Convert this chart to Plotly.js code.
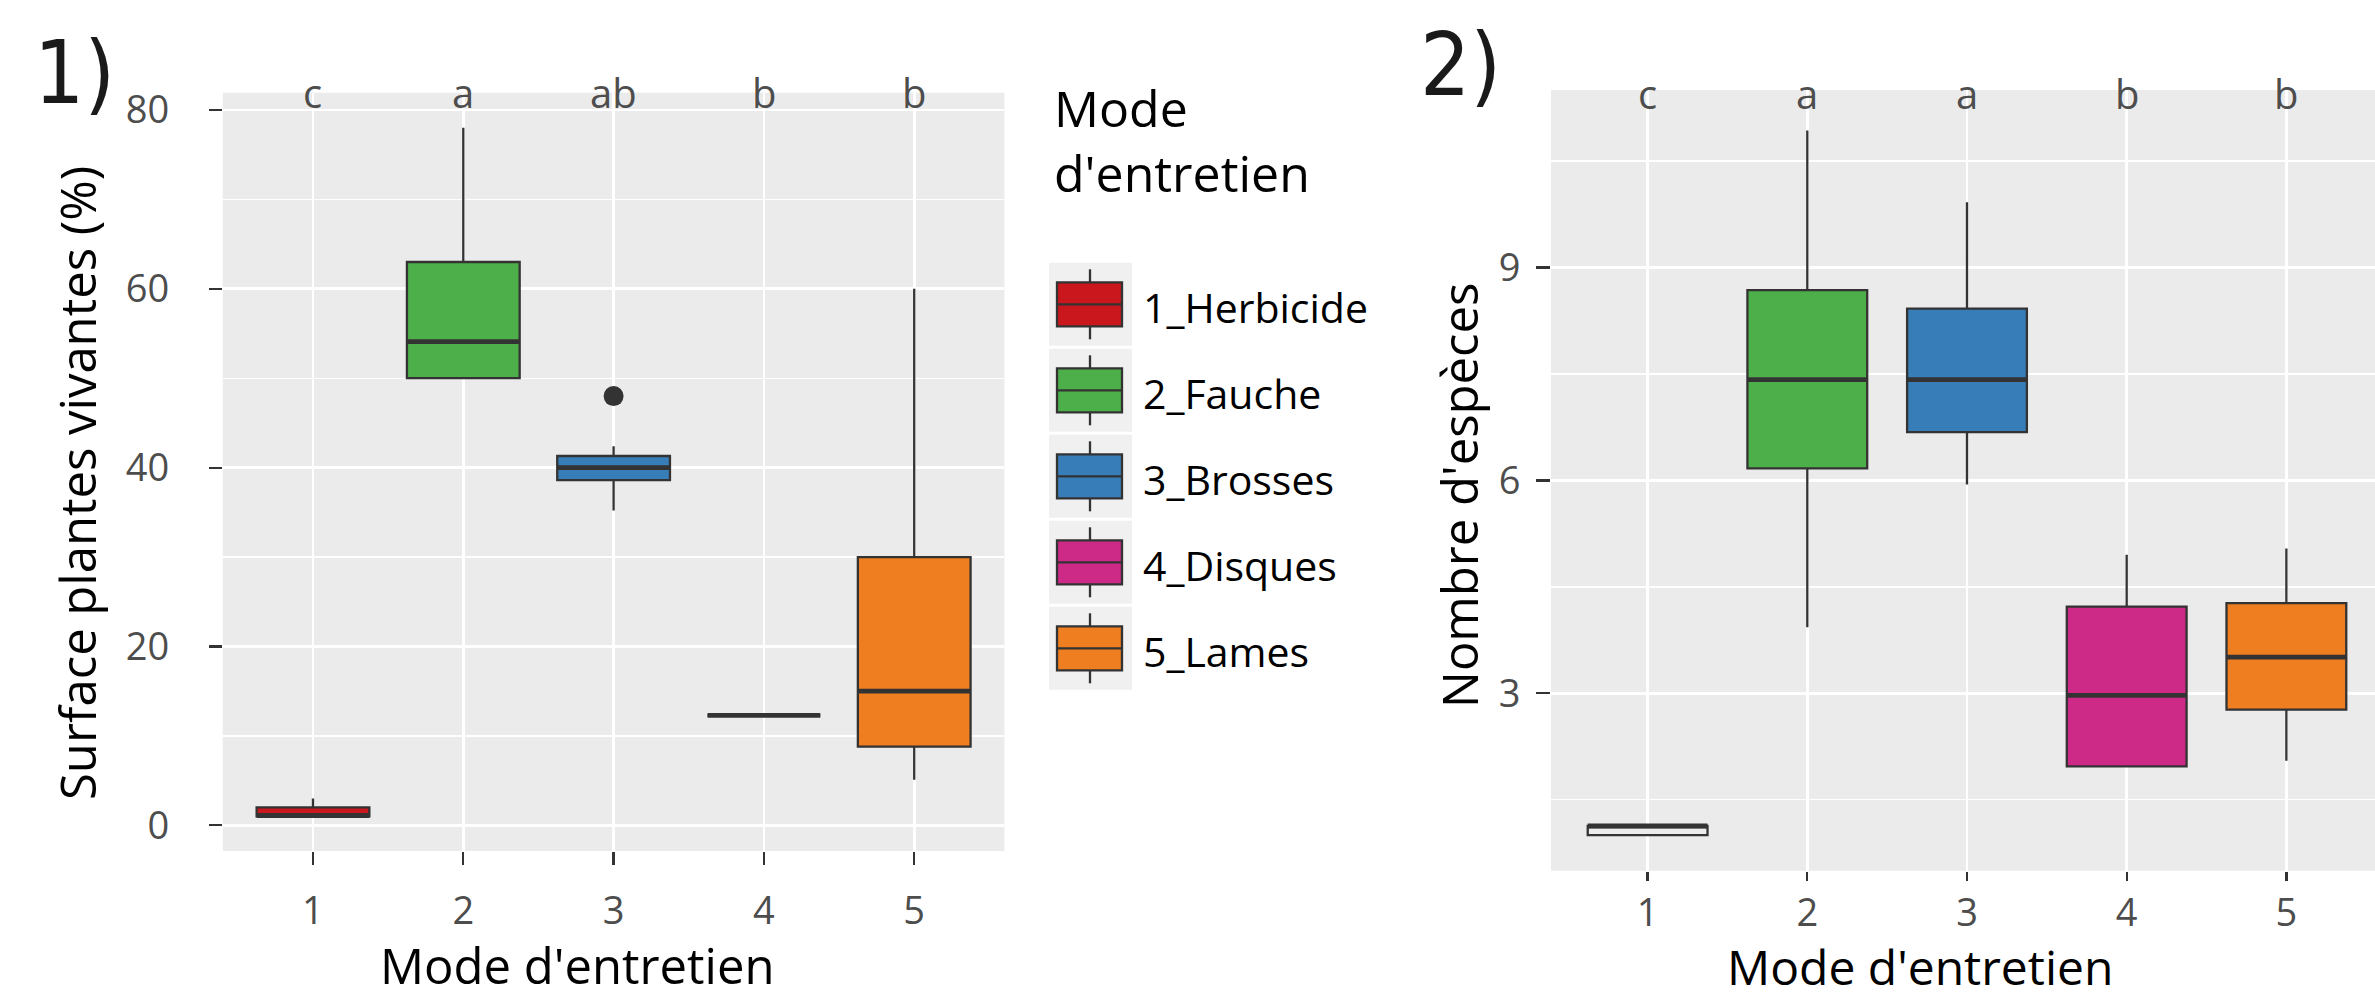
<!DOCTYPE html>
<html>
<head>
<meta charset="utf-8">
<script src="https://cdn.plot.ly/plotly-3.0.1.min.js"></script>
<style>html,body{margin:0;padding:0;background:#fff;}#chart{width:2375px;height:1000px;}</style>
</head>
<body>
<div id="chart"></div>
<script>
// ---------- DATA ----------
const categories = [1, 2, 3, 4, 5];
const tickLabels = ['1', '2', '3', '4', '5'];
const treatments = ['1_Herbicide', '2_Fauche', '3_Brosses', '4_Disques', '5_Lames'];

// Panel 1 : Surface plantes vivantes (%)
const surfLower  = [1,   50,   35.2, 12.3, 5.1];
const surfQ1     = [1,   50,   38.6, 12.3, 8.8];
const surfMedian = [1.1, 54.1, 40,   12.3, 15];
const surfQ3     = [2,   63,   41.3, 12.3, 30];
const surfUpper  = [3,   78,   42.4, 12.3, 60];
const surfOutlierX = [3];
const surfOutlierY = [48];
const surfLetters = ['c', 'a', 'ab', 'b', 'b'];
const surfLetterY = 80;

// Panel 2 : Nombre d'espèces
const espLower  = [1.0,  3.93,  5.94, 2.0,  2.05];
const espQ1     = [1.0,  6.17,  6.68, 1.97, 2.77];
const espMedian = [1.13, 7.42,  7.42, 2.97, 3.51];
const espQ3     = [1.13, 8.68,  8.42, 4.22, 4.27];
const espUpper  = [1.13, 10.93, 9.92, 4.95, 5.04];
const espLetters = ['c', 'a', 'a', 'b', 'b'];
const espLetterY = 11.2;

// ---------- STYLE ----------
const fills = ['#c9171d', '#4daf4a', '#377eb8', '#cd2986', '#ee7e1f'];
const esp1Fill = '#ebebeb';
const W = 2375, H = 1000;
const FONT = 'Open Sans, Noto Sans, sans-serif';
const lineCol = '#333333';
const BOXW = 0.75;
const px = v => v / W;
const py = v => 1 - v / H;

const traces = [];
function addPanel(xa, ya, lower, q1, med, q3, upper, fillArr) {
  categories.forEach((c, i) => {
    traces.push({
      type: 'box', xaxis: xa, yaxis: ya, name: treatments[i], showlegend: false,
      x: [c], q1: [q1[i]], median: [med[i]], q3: [q3[i]],
      lowerfence: [lower[i]], upperfence: [upper[i]],
      width: BOXW, whiskerwidth: 0, boxpoints: false,
      fillcolor: fillArr[i], line: {color: lineCol, width: 2.3},
      hoverinfo: 'skip'
    });
  });
  // thicker median segments (ggplot fatten)
  const mx = [], my = [];
  categories.forEach((c, i) => {
    mx.push(c - BOXW / 2, c + BOXW / 2, null);
    my.push(med[i], med[i], null);
  });
  traces.push({type: 'scatter', mode: 'lines', xaxis: xa, yaxis: ya, x: mx, y: my,
    line: {color: lineCol, width: 4.8}, showlegend: false, hoverinfo: 'skip'});
}
addPanel('x', 'y', surfLower, surfQ1, surfMedian, surfQ3, surfUpper, fills);
addPanel('x2', 'y2', espLower, espQ1, espMedian, espQ3, espUpper,
  fills.map((f, i) => i === 0 ? esp1Fill : f));
traces.push({type: 'scatter', mode: 'markers', xaxis: 'x', yaxis: 'y',
  x: surfOutlierX, y: surfOutlierY, marker: {color: lineCol, size: 20},
  showlegend: false, hoverinfo: 'skip'});

const annotations = [];
categories.forEach((c, i) => {
  annotations.push({xref: 'x', yref: 'y', x: c, y: surfLetterY, text: surfLetters[i],
    showarrow: false, xanchor: 'center', yanchor: 'bottom', yshift: -12,
    font: {family: FONT, size: 40, color: '#4d4d4d'}});
  annotations.push({xref: 'x2', yref: 'y2', x: c, y: espLetterY, text: espLetters[i],
    showarrow: false, xanchor: 'center', yanchor: 'bottom', yshift: -12,
    font: {family: FONT, size: 40, color: '#4d4d4d'}});
});
// panel tags
const tagFont = {family: 'Liberation Sans Narrow, DejaVu Sans Condensed, Open Sans, sans-serif', size: 88, color: '#1a1a1a'};
annotations.push({xref: 'paper', yref: 'paper', x: px(32), y: py(126), text: '1)', showarrow: false,
  xanchor: 'left', yanchor: 'bottom', font: tagFont});
annotations.push({xref: 'paper', yref: 'paper', x: px(1418), y: py(118), text: '2)', showarrow: false,
  xanchor: 'left', yanchor: 'bottom', font: tagFont});
// axis titles
annotations.push({xref: 'paper', yref: 'paper', x: px(577), y: py(999), text: "Mode d'entretien",
  showarrow: false, xanchor: 'center', yanchor: 'bottom', borderpad: 0, font: {family: FONT, size: 49, color: '#000'}});
annotations.push({xref: 'paper', yref: 'paper', x: px(1920), y: py(1000), text: "Mode d'entretien",
  showarrow: false, xanchor: 'center', yanchor: 'bottom', borderpad: 0, font: {family: FONT, size: 48, color: '#000'}});
annotations.push({xref: 'paper', yref: 'paper', x: px(77), y: py(483), text: 'Surface plantes vivantes (%)',
  showarrow: false, textangle: -90, xanchor: 'center', yanchor: 'middle', font: {family: FONT, size: 49, color: '#000'}});
annotations.push({xref: 'paper', yref: 'paper', x: px(1459), y: py(496), text: "Nombre d'espèces",
  showarrow: false, textangle: -90, xanchor: 'center', yanchor: 'middle', font: {family: FONT, size: 49, color: '#000'}});
// legend (drawn manually)
annotations.push({xref: 'paper', yref: 'paper', x: px(1052), y: py(72), text: "Mode<br>d'entretien",
  showarrow: false, xanchor: 'left', yanchor: 'top', align: 'left', font: {family: FONT, size: 50, color: '#000'}});
const shapes = [];
const keyX0 = 1049, keyX1 = 1132, keyCx = 1090, keyTop = 304.3, keyPitch = 86;
treatments.forEach((t, i) => {
  const cy = keyTop + i * keyPitch;
  shapes.push({type: 'rect', xref: 'paper', yref: 'paper', x0: px(keyX0), x1: px(keyX1), y0: py(cy - 41.5), y1: py(cy + 41.5),
    fillcolor: '#f0f0f0', line: {width: 0}, layer: 'below'});
  shapes.push({type: 'line', xref: 'paper', yref: 'paper', x0: px(keyCx), x1: px(keyCx), y0: py(cy - 35), y1: py(cy + 35),
    line: {color: lineCol, width: 2.3}});
  shapes.push({type: 'rect', xref: 'paper', yref: 'paper', x0: px(1057), x1: px(1122), y0: py(cy - 22), y1: py(cy + 22),
    fillcolor: fills[i], line: {color: lineCol, width: 2.3}});
  shapes.push({type: 'line', xref: 'paper', yref: 'paper', x0: px(1057), x1: px(1122), y0: py(cy), y1: py(cy),
    line: {color: lineCol, width: 2.3}});
  annotations.push({xref: 'paper', yref: 'paper', x: px(1141), y: py(cy + 3), text: t, showarrow: false,
    xanchor: 'left', yanchor: 'middle', font: {family: FONT, size: 41, color: '#000'}});
});

const axCommon = {
  showline: false, zeroline: false, ticks: 'outside', tickcolor: lineCol, tickwidth: 2.3,
  gridcolor: '#ffffff', gridwidth: 2.6, tickfont: {family: FONT, size: 38, color: '#4d4d4d'}, fixedrange: true
};
const layout = {
  width: W, height: H, autosize: false,
  margin: {l: 0, r: 0, t: 0, b: 0, pad: 0},
  paper_bgcolor: '#ffffff', plot_bgcolor: '#ebebeb',
  showlegend: false, boxmode: 'overlay',
  xaxis: Object.assign({}, axCommon, {domain: [px(222.8), px(1004.4)], range: [0.4, 5.6],
    tickmode: 'array', tickvals: categories, ticktext: tickLabels, ticklen: 13, ticklabelstandoff: 13, anchor: 'y'}),
  yaxis: Object.assign({}, axCommon, {domain: [py(851), py(92.7)], range: [-2.87, 81.93],
    tickmode: 'linear', tick0: 0, dtick: 20, ticklen: 13, ticklabelstandoff: 32, anchor: 'x',
    minor: {tickmode: 'linear', tick0: 0, dtick: 10, showgrid: true, gridcolor: '#ffffff', gridwidth: 1.4, ticks: ''}}),
  xaxis2: Object.assign({}, axCommon, {domain: [px(1551), 1], range: [0.395, 5.555],
    tickmode: 'array', tickvals: categories, ticktext: tickLabels, ticklen: 9, ticklabelstandoff: 0, anchor: 'y2'}),
  yaxis2: Object.assign({}, axCommon, {domain: [py(870.7), py(90)], range: [0.5, 11.5],
    tickmode: 'linear', tick0: 0, dtick: 3, ticklen: 14, ticklabelstandoff: 8, anchor: 'x2',
    minor: {tickmode: 'linear', tick0: 0, dtick: 1.5, showgrid: true, gridcolor: '#ffffff', gridwidth: 1.4, ticks: ''}}),
  annotations: annotations,
  shapes: shapes
};
Plotly.newPlot('chart', traces, layout, {displayModeBar: false, staticPlot: true});
</script>
</body>
</html>
